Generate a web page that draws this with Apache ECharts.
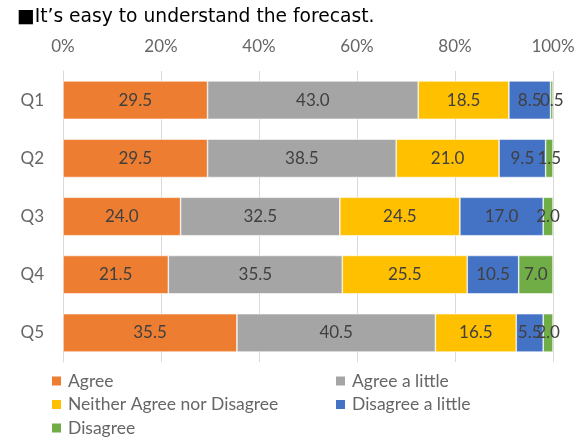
<!DOCTYPE html>
<html>
<head>
<meta charset="utf-8">
<script src="https://cdn.jsdelivr.net/npm/echarts@6/dist/echarts.min.js"></script>
<style>
  html, body { margin: 0; padding: 0; background: #fff; }
  #chart { width: 580px; height: 438px; }
</style>
</head>
<body>
<div id="chart"></div>
<script>
// Survey questions and answer categories
const questions = ['Q1', 'Q2', 'Q3', 'Q4', 'Q5'];
const answerNames = ['Agree', 'Agree a little', 'Neither Agree nor Disagree', 'Disagree a little', 'Disagree'];
const answerColors = ['#ED7D31', '#A5A5A5', '#FFC000', '#4472C4', '#70AD47'];

// Share of answers (%) per question
const agree = [29.5, 29.5, 24.0, 21.5, 35.5];
const agreeLittle = [43.0, 38.5, 32.5, 35.5, 40.5];
const neither = [18.5, 21.0, 24.5, 25.5, 16.5];
const disagreeLittle = [8.5, 9.5, 17.0, 10.5, 5.5];
const disagree = [0.5, 1.5, 2.0, 7.0, 2.0];

const axisTicks = [0, 20, 40, 60, 80, 100];

const seriesValues = [agree, agreeLittle, neither, disagreeLittle, disagree];
const labelFont = 'Lato, Liberation Sans, sans-serif';
const labelSize = 17;
const axisColor = '#666666';

const chart = echarts.init(document.getElementById('chart'), null, { renderer: 'canvas' });

const legendBase = {
  orient: 'vertical', top: 372, itemGap: 5.5,
  itemWidth: 11, itemHeight: 11, icon: 'rect', padding: 0,
  textStyle: { color: axisColor, fontSize: 17.5, fontFamily: labelFont, padding: [0, 0, 0, 1] }
};

chart.setOption({
  animation: false,
  title: {
    text: '■It\u2019s easy to understand the forecast.',
    left: 12,
    top: 3,
    textStyle: { fontFamily: 'DejaVu Sans', fontSize: 18.7, fontWeight: 'normal', color: '#000' }
  },
  grid: { left: 63, right: 27, top: 71, bottom: 76 },
  xAxis: {
    type: 'value',
    position: 'top',
    min: axisTicks[0],
    max: axisTicks[axisTicks.length - 1],
    interval: axisTicks[1] - axisTicks[0],
    axisLine: { show: false },
    axisTick: { show: false },
    splitLine: { show: true, lineStyle: { color: '#D9D9D9', width: 1 } },
    axisLabel: { formatter: '{value}%', color: axisColor, fontSize: labelSize, fontFamily: labelFont, margin: 16 }
  },
  yAxis: {
    type: 'category',
    inverse: true,
    data: questions,
    axisLine: { show: true, lineStyle: { color: '#D9D9D9' } },
    axisTick: { show: false },
    axisLabel: { color: axisColor, fontSize: labelSize, fontFamily: labelFont, margin: 19 }
  },
  legend: [
    Object.assign({}, legendBase, { left: 50, data: [answerNames[0], answerNames[2], answerNames[4]] }),
    Object.assign({}, legendBase, { left: 334, data: [answerNames[1], answerNames[3]] })
  ],
  series: answerNames.map((name, i) => ({
    name: name,
    type: 'bar',
    stack: 'total',
    barCategoryGap: '34%',
    data: seriesValues[i],
    itemStyle: { color: answerColors[i], borderColor: '#fff', borderWidth: 0.6 },
    label: {
      show: true,
      position: 'inside',
      formatter: p => p.value.toFixed(1),
      color: '#404040',
      fontSize: labelSize,
      fontFamily: labelFont
    }
  }))
});
</script>
</body>
</html>
